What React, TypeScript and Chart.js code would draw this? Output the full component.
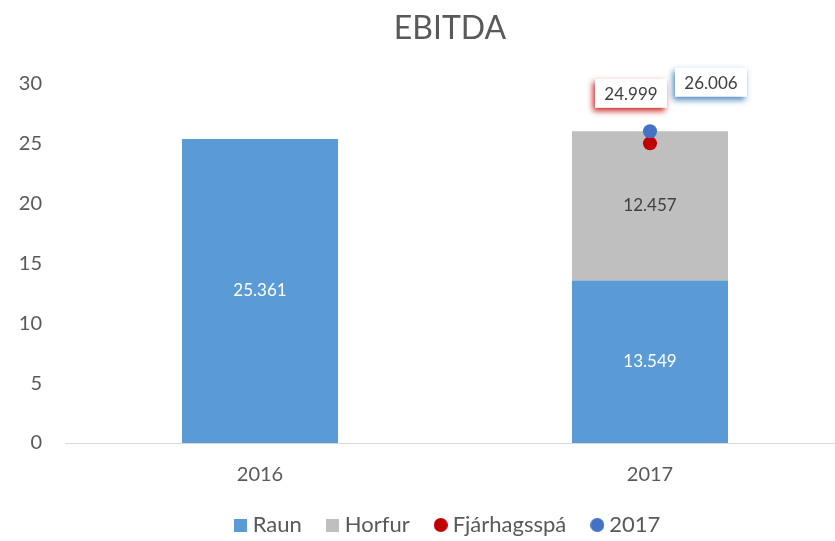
import React, { useEffect, useRef } from 'react';
import { Chart, registerables } from 'chart.js';

Chart.register(...registerables);

const categories = ['2016', '2017'];
const raun = [25.361, 13.549];
const horfur: (number | null)[] = [null, 12.457];
const fjarhagsspa: (number | null)[] = [null, 24.999];
const actual2017: (number | null)[] = [null, 26.006];
const seriesNames = ['Raun', 'Horfur', 'Fjárhagsspá', '2017'];
const yMin = 0;
const yMax = 30;
const yStep = 5;

const FONT = 'Lato';
const TEXT = '#595959';
const C_RAUN = '#5B9BD5';
const C_HORFUR = '#BFBFBF';
const C_RED = '#C00000';
const C_BLUE = '#4472C4';

const fmt = (v: number) => v.toFixed(3);

function marker(shape: 'rect' | 'circle', color: string, size: number) {
  const c = document.createElement('canvas');
  c.width = size;
  c.height = size;
  const x = c.getContext('2d')!;
  x.fillStyle = color;
  if (shape === 'rect') x.fillRect(0, 0, size, size);
  else {
    x.beginPath();
    x.arc(size / 2, size / 2, size / 2, 0, Math.PI * 2);
    x.fill();
  }
  return c;
}

const labelPlugin = {
  id: 'valueLabels',
  afterDatasetsDraw(chart: any) {
    const ctx = chart.ctx as CanvasRenderingContext2D;
    ctx.save();
    ctx.textAlign = 'center';
    ctx.textBaseline = 'middle';
    ctx.font = `17px ${FONT}`;
    [0, 1].forEach((di) => {
      const meta = chart.getDatasetMeta(di);
      meta.data.forEach((el: any, i: number) => {
        const v = chart.data.datasets[di].data[i];
        if (v == null) return;
        const p = el.getProps(['x', 'y', 'base'], true);
        ctx.fillStyle = di === 0 ? '#FFFFFF' : '#404040';
        ctx.fillText(fmt(v), p.x, (p.y + p.base) / 2);
      });
    });
    const callouts = [
      { di: 2, dx: -19, dy: -50, shadow: 'rgba(192,0,0,0.85)' },
      { di: 3, dx: 61, dy: -49, shadow: 'rgba(46,117,182,0.85)' },
    ];
    ctx.font = `17px ${FONT}`;
    callouts.forEach((c) => {
      const meta = chart.getDatasetMeta(c.di);
      meta.data.forEach((el: any, i: number) => {
        const v = chart.data.datasets[c.di].data[i];
        if (v == null) return;
        const cx = el.x + c.dx;
        const cy = el.y + c.dy;
        const w = 72;
        const h = 29;
        ctx.save();
        ctx.shadowColor = c.shadow;
        ctx.shadowBlur = 6;
        ctx.shadowOffsetX = -2;
        ctx.shadowOffsetY = 3;
        ctx.fillStyle = '#FFFFFF';
        ctx.fillRect(cx - w / 2, cy - h / 2, w, h);
        ctx.restore();
        ctx.fillStyle = '#404040';
        ctx.fillText(fmt(v), cx, cy + 1);
      });
    });
    ctx.restore();
  },
};

export default function App() {
  const ref = useRef<HTMLCanvasElement>(null);
  useEffect(() => {
    if (!ref.current) return;
    const markers = [
      marker('rect', C_RAUN, 13),
      marker('rect', C_HORFUR, 13),
      marker('circle', C_RED, 14),
      marker('circle', C_BLUE, 14),
    ];
    const chart = new Chart(ref.current, {
      type: 'bar',
      data: {
        labels: categories,
        datasets: [
          { type: 'bar', label: seriesNames[0], data: raun, backgroundColor: C_RAUN, stack: 'bars', order: 2 },
          { type: 'bar', label: seriesNames[1], data: horfur, backgroundColor: C_HORFUR, stack: 'bars', order: 2 },
          {
            type: 'line', label: seriesNames[2], data: fjarhagsspa, stack: 'a', order: 1,
            showLine: false, pointRadius: 7, pointHoverRadius: 7,
            backgroundColor: C_RED, borderColor: C_RED, pointBorderWidth: 0,
          },
          {
            type: 'line', label: seriesNames[3], data: actual2017, stack: 'b', order: 0,
            showLine: false, pointRadius: 7, pointHoverRadius: 7,
            backgroundColor: C_BLUE, borderColor: C_BLUE, pointBorderWidth: 0,
          },
        ] as any,
      },
      options: {
        animation: false,
        responsive: false,
        maintainAspectRatio: false,
        layout: { padding: 0 },
        datasets: { bar: { categoryPercentage: 1, barPercentage: 0.4 } } as any,
        scales: {
          x: {
            stacked: true,
            offset: true,
            grid: { display: false, drawTicks: false },
            border: { display: true, color: '#D9D9D9', width: 1 },
            ticks: { color: TEXT, font: { family: FONT, size: 20 }, padding: 20 },
            afterFit: (s: any) => { s.height = 41; },
          },
          y: {
            stacked: true,
            min: yMin,
            max: yMax,
            grid: { display: false, drawTicks: false },
            border: { display: false },
            ticks: { stepSize: yStep, color: TEXT, font: { family: FONT, size: 20 }, padding: 23 },
            afterFit: (s: any) => { s.width = 65; },
          },
          yRight: {
            position: 'right',
            display: true,
            grid: { display: false, drawTicks: false },
            border: { display: false },
            ticks: { display: false },
            afterFit: (s: any) => { s.width = 55; },
          },
        },
        plugins: {
          title: {
            display: true,
            text: 'EBITDA',
            color: TEXT,
            font: { family: FONT, size: 32, weight: 'normal' },
            padding: { top: 9, bottom: 36 },
          },
          legend: {
            position: 'bottom',
            labels: {
              color: TEXT,
              font: { family: FONT, size: 22 },
              usePointStyle: true,
              boxWidth: 2,
              boxHeight: 13,
              padding: 30,
              sort: (a: any, b: any) => a.datasetIndex - b.datasetIndex,
              generateLabels: (ch: any) => {
                const items = (Chart.defaults.plugins.legend.labels as any).generateLabels(ch);
                items.forEach((it: any) => { it.pointStyle = markers[it.datasetIndex]; });
                return items;
              },
            },
          },
          tooltip: { enabled: false },
        },
      } as any,
      plugins: [labelPlugin],
    });
    return () => chart.destroy();
  }, []);
  return (
    <div style={{ position: 'fixed', left: 0, top: 0, width: 835, height: 541, overflow: 'hidden', background: '#fff' }}>
      <canvas ref={ref} width={900} height={546} style={{ display: 'block', width: 900, height: 546 }} />
    </div>
  );
}
